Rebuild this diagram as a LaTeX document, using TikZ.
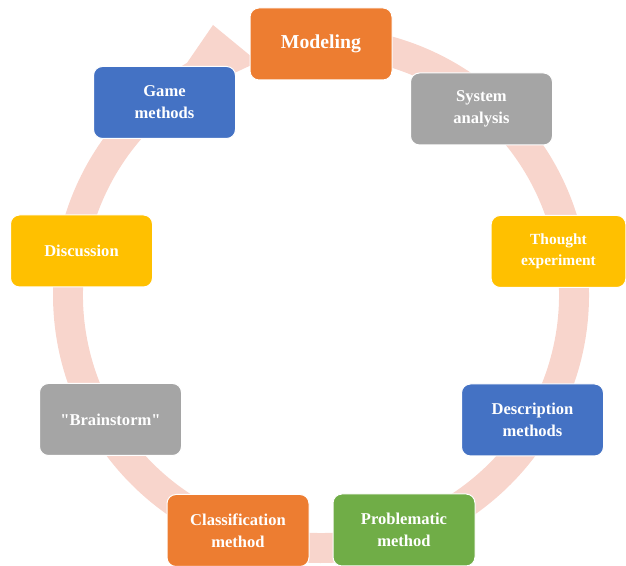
\documentclass[tikz,border=0pt]{standalone}
\usepackage{fontspec}
\setmainfont{Liberation Serif}[Ligatures=TeXOff]
\usetikzlibrary{calc}
\definecolor{ringpink}{HTML}{F8D5CC}
\definecolor{cOrange}{HTML}{ED7D31}
\definecolor{cGray}{HTML}{A5A5A5}
\definecolor{cGold}{HTML}{FFC000}
\definecolor{cBlue}{HTML}{4472C4}
\definecolor{cGreen}{HTML}{70AD47}
\tikzset{
  stepbox/.style={rectangle, rounded corners=6.75pt, draw=white, line width=0.75pt,
    minimum width=106.5pt, minimum height=54pt, text=white, align=center, inner sep=2pt,
    font=\bfseries\fontsize{12.4}{16.5}\selectfont},
}
\begin{document}
\begin{tikzpicture}[x=0.75pt,y=0.75pt]
\useasboundingbox (0,0) rectangle (626,566);
\coordinate (C) at (321,271);
% ring arrow
\fill[ringpink] ($(C)+(95:268)$) arc[start angle=95,end angle=-240,radius=201pt]
  -- (213,541) -- (258,504) -- ($(C)+(112.9:238)$)
  arc[start angle=-247.1,end angle=95,radius=178.5pt] -- cycle;
% nodes
\node[stepbox, fill=cOrange, font=\bfseries\fontsize{14.8}{18}\selectfont] (model) at (321,522) {Modeling};
\node[stepbox, fill=cGray] (sys) at (481.5,457) {System\\analysis};
\node[stepbox, fill=cGold, minimum width=101pt, font=\bfseries\fontsize{11.6}{16}\selectfont] (thought) at (558.5,314.5) {Thought\\experiment};
\node[stepbox, fill=cBlue] (desc) at (532.5,146) {Description\\methods};
\node[stepbox, fill=cGreen] (prob) at (404,36) {Problematic\\method};
\node[stepbox, fill=cOrange] (class) at (238,35.5) {Classification\\method};
\node[stepbox, fill=cGray] (brain) at (110.5,146.5) {"Brainstorm"};
\node[stepbox, fill=cGold] (disc) at (81.5,315) {Discussion};
\node[stepbox, fill=cBlue] (game) at (164.5,463.5) {Game\\methods};
\end{tikzpicture}
\end{document}
